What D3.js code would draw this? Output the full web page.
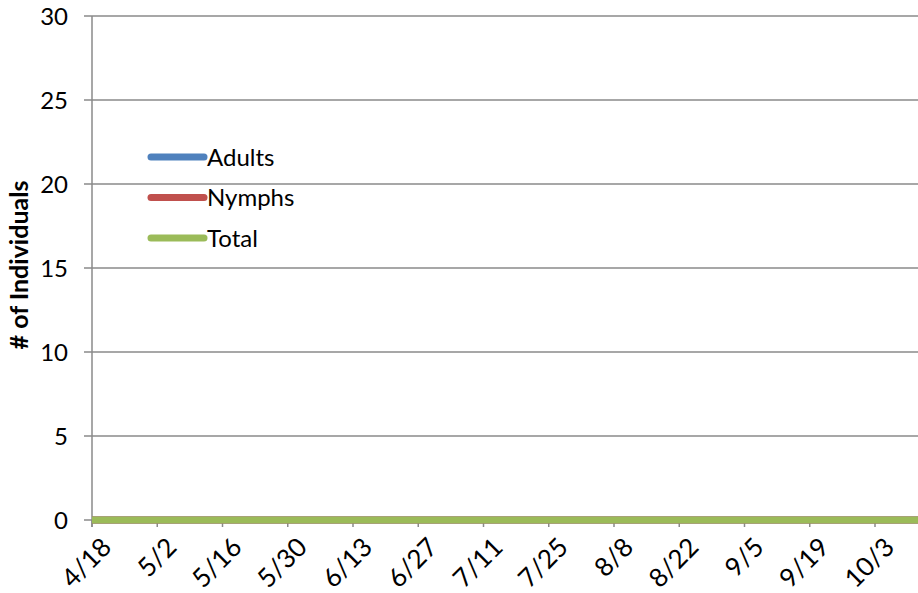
<!DOCTYPE html>
<html><head><meta charset="utf-8">
<script src="https://cdn.jsdelivr.net/npm/d3@7"></script>
<style>body{margin:0;background:#fff}svg{display:block}</style>
</head><body>
<svg id="c" width="918" height="593"></svg>
<script>
const sampleDates = ["4/18","4/25","5/2","5/9","5/16","5/23","5/30","6/6","6/13","6/20","6/27","7/4","7/11","7/18","7/25","8/1","8/8","8/15","8/22","8/29","9/5","9/12","9/19","9/26","10/3","10/10","10/17"];
const adults = [0,0,0,0,0,0,0,0,0,0,0,0,0,0,0,0,0,0,0,0,0,0,0,0,0,0,0];
const nymphs = [0,0,0,0,0,0,0,0,0,0,0,0,0,0,0,0,0,0,0,0,0,0,0,0,0,0,0];
const total  = [0,0,0,0,0,0,0,0,0,0,0,0,0,0,0,0,0,0,0,0,0,0,0,0,0,0,0];
const tickLabels = ["4/18","5/2","5/16","5/30","6/13","6/27","7/11","7/25","8/8","8/22","9/5","9/19","10/3"];
const yTicks = [0,5,10,15,20,25,30];
const seriesNames = ["Adults","Nymphs","Total"];
const seriesColors = ["#4f81bd","#c0504d","#9bbb59"];

const parse = s => { const [m,d] = s.split("/").map(Number); return new Date(2012, m-1, d); };
const svg = d3.select("#c");
const font = "Lato, 'Open Sans', sans-serif";
const fs = 24;
const x = d3.scaleTime().domain([parse("4/18"), parse("10/17")]).range([92, 92 + 65.25*13]);
const y = d3.scaleLinear().domain([0,30]).range([520, 16]);
const grid = "#8a8a8a";

svg.append("g").selectAll("line").data(yTicks).join("line")
  .attr("x1", 84).attr("x2", 918).attr("y1", d=>y(d)).attr("y2", d=>y(d))
  .attr("stroke", grid).attr("stroke-width", 1.5);
svg.append("g").selectAll("text").data(yTicks).join("text")
  .attr("x", 68).attr("y", d=>y(d)).attr("dy","0.36em").attr("text-anchor","end")
  .attr("font-family", font).attr("font-size", fs).attr("fill","#000").text(d=>d);
svg.append("line").attr("x1",92).attr("x2",92).attr("y1",y(30)).attr("y2",527)
  .attr("stroke",grid).attr("stroke-width",1.5);
const xt = svg.append("g");
xt.selectAll("line").data(tickLabels).join("line")
  .attr("x1", d=>x(parse(d))).attr("x2", d=>x(parse(d))).attr("y1",520).attr("y2",527)
  .attr("stroke",grid).attr("stroke-width",1.5);
xt.selectAll("text").data(tickLabels).join("text")
  .attr("transform", d=>`translate(${x(parse(d))+8},${536}) rotate(-45)`)
  .attr("text-anchor","end").attr("dy","0.7em")
  .attr("font-family", font).attr("font-size", 26).attr("fill","#000").text(d=>d);
svg.append("text").attr("transform","translate(28,265) rotate(-90)")
  .attr("text-anchor","middle").attr("font-family", font).attr("font-weight","bold")
  .attr("font-size", 25).text("# of Individuals");

const line = d3.line().x((d,i)=>x(parse(sampleDates[i]))).y(d=>y(d));
[adults, nymphs, total].forEach((s,k)=>{
  svg.append("path").datum(s).attr("d", line).attr("fill","none")
    .attr("stroke", seriesColors[k]).attr("stroke-width", 7).attr("stroke-linecap","butt");
});

const lg = svg.append("g");
seriesNames.forEach((n,k)=>{
  const yy = 157 + k*40.5;
  lg.append("line").attr("x1",151).attr("x2",204).attr("y1",yy).attr("y2",yy)
    .attr("stroke",seriesColors[k]).attr("stroke-width",7).attr("stroke-linecap","round");
  lg.append("text").attr("x",207).attr("y",yy).attr("dy","0.36em")
    .attr("font-family", font).attr("font-size",fs).text(n);
});
</script>
</body></html>
